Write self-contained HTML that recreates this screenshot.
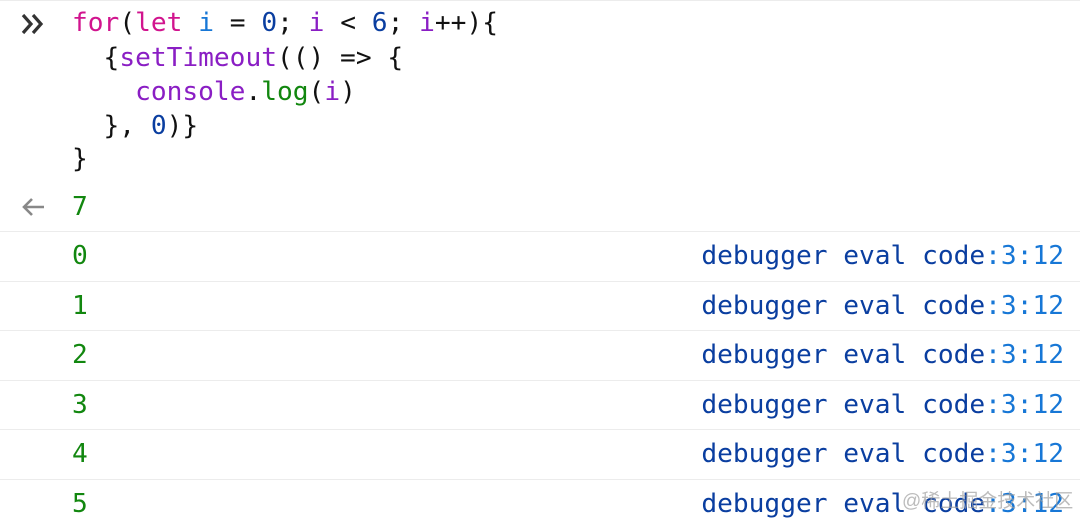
<!DOCTYPE html>
<html><head><meta charset="utf-8"><style>
body{margin:0;width:1080px;height:526px;background:#fff;overflow:hidden;position:relative;font-family:"DejaVu Sans Mono","Liberation Mono",monospace;font-size:26.2px;}
.l{position:absolute;left:72px;white-space:pre;line-height:34px;height:34px;}
.k{color:#d1148e}.v{color:#1777d6}.n{color:#0a3ea0}.p{color:#8a1ec4}.g{color:#12870f}.b{color:#111}
.row{position:absolute;left:0;width:1080px;height:49px;border-top:1.5px solid #ececec;}
.row .num{position:absolute;left:72px;top:0;line-height:49px;color:#12870f}
.row .src{position:absolute;right:16px;top:0;line-height:49px;color:#0a3ea0}
.src span{color:#1777d6}
.topb{position:absolute;left:0;top:0;width:1080px;border-top:1.5px solid #ececec}
</style></head><body>
<div class="topb"></div>
<svg style="position:absolute;left:20px;top:12px" width="30" height="24"><path d="M3 3 L11 12 L3 21 M13 3 L21 12 L13 21" stroke="#333" stroke-width="3.2" fill="none"/></svg>
<div class="l" style="top:6px"><span class="k">for</span><span class="b">(</span><span class="k">let</span> <span class="v">i</span> <span class="b">=</span> <span class="n">0</span><span class="b">;</span> <span class="p">i</span> <span class="b">&lt;</span> <span class="n">6</span><span class="b">;</span> <span class="p">i</span><span class="b">++){</span></div>
<div class="l" style="top:41px"><span class="b">  {</span><span class="p">setTimeout</span><span class="b">(() =&gt; {</span></div>
<div class="l" style="top:75px">    <span class="p">console</span><span class="b">.</span><span class="g">log</span><span class="b">(</span><span class="p">i</span><span class="b">)</span></div>
<div class="l" style="top:109px"><span class="b">  }, </span><span class="n">0</span><span class="b">)}</span></div>
<div class="l" style="top:142px"><span class="b">}</span></div>
<svg style="position:absolute;left:20px;top:195px" width="30" height="24"><path d="M24 12 H4 M12 4 L4 12 L12 20" stroke="#888" stroke-width="2.6" fill="none"/></svg>
<div class="l g" style="top:190px">7</div>
<div class="row" style="top:231px"><div class="num">0</div><div class="src">debugger eval code<span>:3:12</span></div></div>
<div class="row" style="top:281px"><div class="num">1</div><div class="src">debugger eval code<span>:3:12</span></div></div>
<div class="row" style="top:330px"><div class="num">2</div><div class="src">debugger eval code<span>:3:12</span></div></div>
<div class="row" style="top:380px"><div class="num">3</div><div class="src">debugger eval code<span>:3:12</span></div></div>
<div class="row" style="top:429px"><div class="num">4</div><div class="src">debugger eval code<span>:3:12</span></div></div>
<div class="row" style="top:479px"><div class="num">5</div><div class="src">debugger eval code<span>:3:12</span></div></div>
<div style="position:absolute;left:902px;top:486px;font-family:'Liberation Sans','Noto Sans CJK SC',sans-serif;font-size:19px;color:rgba(160,160,160,0.7)">@稀土掘金技术社区</div>
</body></html>
